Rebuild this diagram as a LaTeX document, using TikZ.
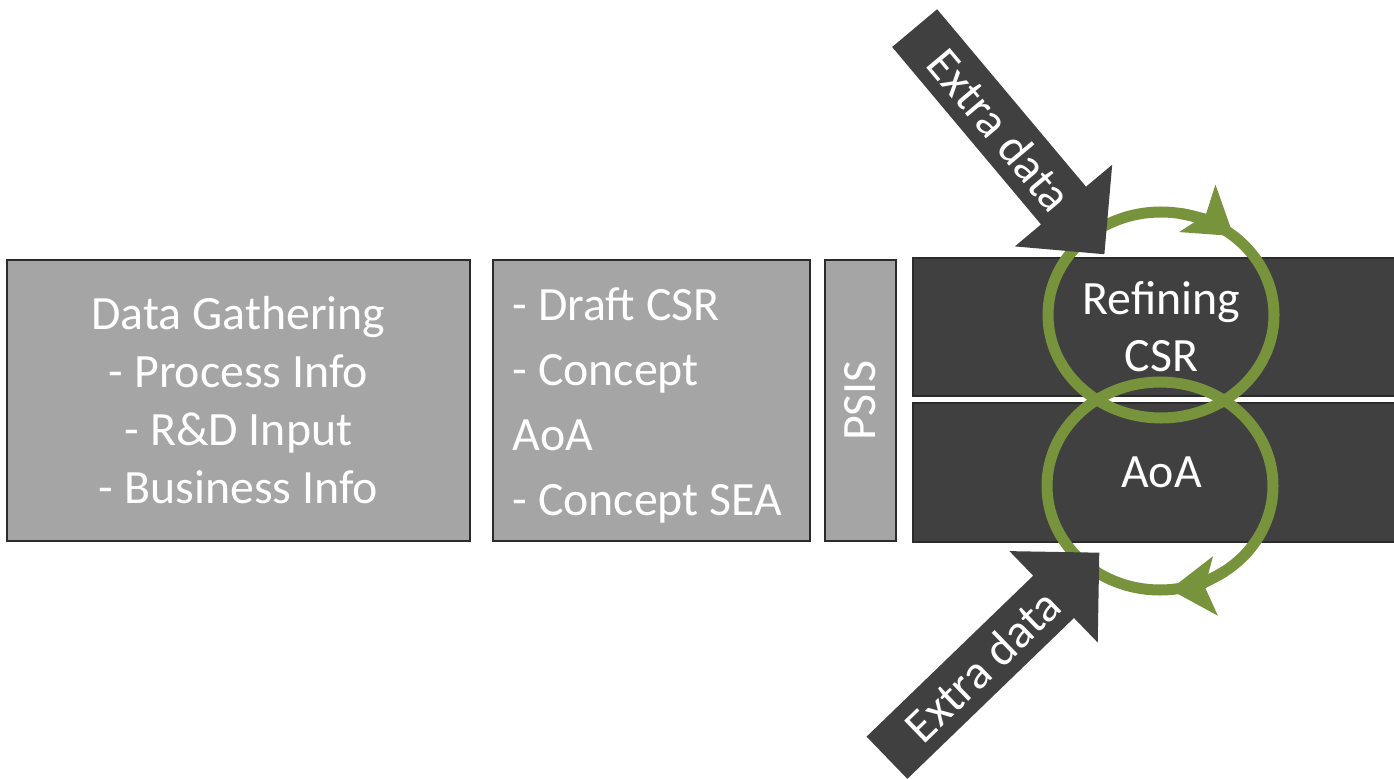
\documentclass[tikz,border=0pt]{standalone}
\usepackage{fontspec}
\setmainfont{Carlito}
\usetikzlibrary{arrows.meta,shapes.arrows,calc}
\definecolor{boxgray}{HTML}{A5A5A5}
\definecolor{darkfill}{HTML}{404040}
\definecolor{edgegray}{HTML}{2B2B2B}
\definecolor{loopgreen}{HTML}{77933C}

\begin{document}
\begin{tikzpicture}[x=0.01cm,y=-0.01cm,
  every node/.style={font=\fontsize{13.6}{16.5}\selectfont,text=white},
  gbox/.style={draw=edgegray,fill=boxgray,line width=0.6pt},
  dbox/.style={draw=edgegray,fill=darkfill,line width=0.6pt,minimum width=4.97cm},
  loop/.style={draw=loopgreen,line width=0.11cm},
  looptip/.style={loopgreen,line width=0.11cm,-{Stealth[length=0.45cm,width=0.58cm,inset=0.1cm]}},
  extra/.style={single arrow,fill=darkfill,single arrow head extend=0.32cm,
    minimum width=1.27cm,minimum height=2.95cm,inner xsep=0.05cm,inner ysep=0.1cm}]
\useasboundingbox (0,0) rectangle (1394,779);
% process boxes
\node[gbox,minimum width=4.63cm,minimum height=2.81cm,align=center] (dg) at (238.5,400.5)
  {Data Gathering\\- Process Info\\- R\&D Input\\- Business Info};
\node[gbox,minimum width=3.17cm,minimum height=2.81cm] (draft) at (651.5,400.5) {};
\node[anchor=west,align=left,inner sep=0pt,font=\fontsize{13.6}{18.4}\selectfont] (drafttxt)
  at ([xshift=0.2cm,yshift=-0.05cm]draft.west) {- Draft CSR\\- Concept\\AoA\\- Concept SEA};
\node[gbox,rotate=90,minimum width=2.81cm,minimum height=0.71cm] (psis) at (860.5,400.5) {PSIS};
\node[dbox,minimum height=1.38cm,align=center,font=\fontsize{13.6}{16.2}\selectfont] (refine)
  at (1161.5,327) {Refining\\CSR};
\node[dbox,minimum height=1.39cm] (aoa) at (1161.5,472.5) {AoA};
% iteration loops
\coordinate (c1) at (1161,315);
\coordinate (c2) at (1160,486);
\draw[loop] (c1) ellipse [x radius=113, y radius=103];
\draw[loop] (c2) ellipse [x radius=113, y radius=104];
\draw[looptip] ($(c1)+(-80:113 and 103)$) arc[start angle=-80,end angle=-50,x radius=113,y radius=103];
\draw[looptip] ($(c2)+(55:113 and 104)$) arc[start angle=55,end angle=85,x radius=113,y radius=104];
% extra inputs
\node[extra,rotate=-50,anchor=tip] (xtop) at (1105,255) {Extra data};
\node[extra,rotate=44,anchor=tip] (xbot) at (1100,552) {Extra data};
\end{tikzpicture}
\end{document}
